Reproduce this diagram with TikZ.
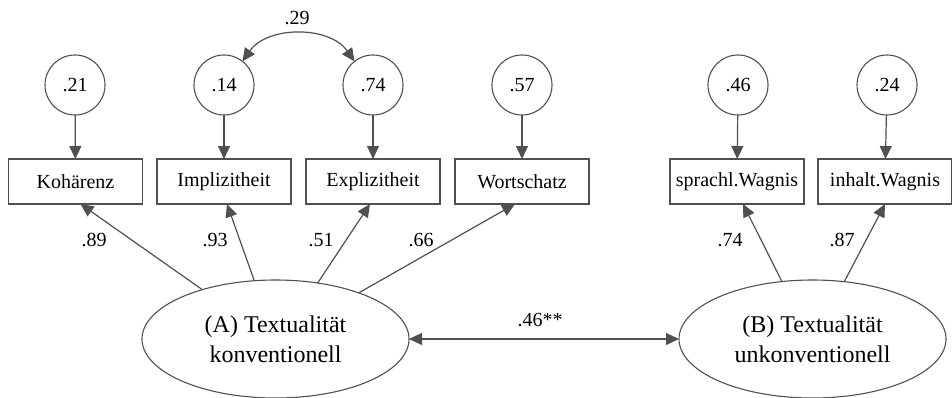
\documentclass[tikz,border=0pt]{standalone}
\usepackage{fontspec}
\setmainfont{Liberation Serif}
\usetikzlibrary{arrows.meta,shapes.geometric}
\definecolor{linegray}{RGB}{80,80,80}
\begin{document}
\begin{tikzpicture}[x=1pt,y=1pt,
  every node/.style={inner sep=0pt, outer sep=0pt},
  ind/.style={draw=linegray, line width=1.1pt, minimum width=134pt, minimum height=45pt,
    font=\fontsize{20}{24}\selectfont},
  err/.style={circle, draw=linegray, line width=1.1pt, minimum size=60pt,
    font=\fontsize{20}{24}\selectfont},
  lat/.style={ellipse, draw=linegray, line width=1.1pt, minimum width=267pt,
    minimum height=118pt, align=center, font=\fontsize{24}{30}\selectfont},
  coef/.style={font=\fontsize{20}{24}\selectfont},
  arr/.style={draw=linegray, line width=1.2pt, -{Triangle[length=13pt,width=12pt]}},
  dblarr/.style={draw=linegray, line width=1.2pt,
    {Triangle[length=13pt,width=12pt]}-{Triangle[length=13pt,width=12pt]}},
]
\useasboundingbox (0,0) rectangle (952,397);

% error terms
\node[err] (e1) at (75,312) {.21};
\node[err] (e2) at (224,312) {.14};
\node[err] (e3) at (373,312) {.74};
\node[err] (e4) at (522,312) {.57};
\node[err] (e5) at (738,312) {.46};
\node[err] (e6) at (887,312) {.24};

% indicators
\node[ind] (k) at (75.5,215.5) {Kohärenz};
\node[ind] (i) at (224,215.5) {Implizitheit};
\node[ind] (x) at (373,215.5) {Explizitheit};
\node[ind] (w) at (522,215.5) {Wortschatz};
\node[ind] (s) at (737,215.5) {sprachl.Wagnis};
\node[ind] (h) at (885,215.5) {inhalt.Wagnis};

% latent factors
\node[lat] (A) at (275.5,58) {(A) Textualität\\konventionell};
\node[lat] (B) at (812.5,58) {(B) Textualität\\unkonventionell};

% residual paths
\draw[arr] (e1) -- (k);
\draw[arr] (e2) -- (i);
\draw[arr] (e3) -- (x);
\draw[arr] (e4) -- (w);
\draw[arr] (e5) -- (s);
\draw[arr] (e6) -- (h);

% residual covariance
\draw[dblarr] (e2.52) to[bend left=55] (e3.128);
\node[coef] (c29) at (297,379) {.29};

% loadings
\draw[arr] (A.146) -- ([xshift=5pt]k.south);
\draw[arr] (A.110.6) -- ([xshift=3pt]i.south);
\draw[arr] (A.53.8) -- ([xshift=-3pt]x.south);
\draw[arr] (A.29) -- ([xshift=-7pt]w.south);
\draw[arr] (B.118.4) -- ([xshift=6pt]s.south);
\draw[arr] (B.61.6) -- (h.south);

\node[coef] (l1) at (94,157) {.89};
\node[coef] (l2) at (215,157) {.93};
\node[coef] (l3) at (321,157) {.51};
\node[coef] (l4) at (421,157) {.66};
\node[coef] (l5) at (730,157) {.74};
\node[coef] (l6) at (842,157) {.87};

% factor correlation
\draw[dblarr] (A.east) -- (B.west);
\node[coef] (r) at (540,77) {.46**};
\end{tikzpicture}
\end{document}
